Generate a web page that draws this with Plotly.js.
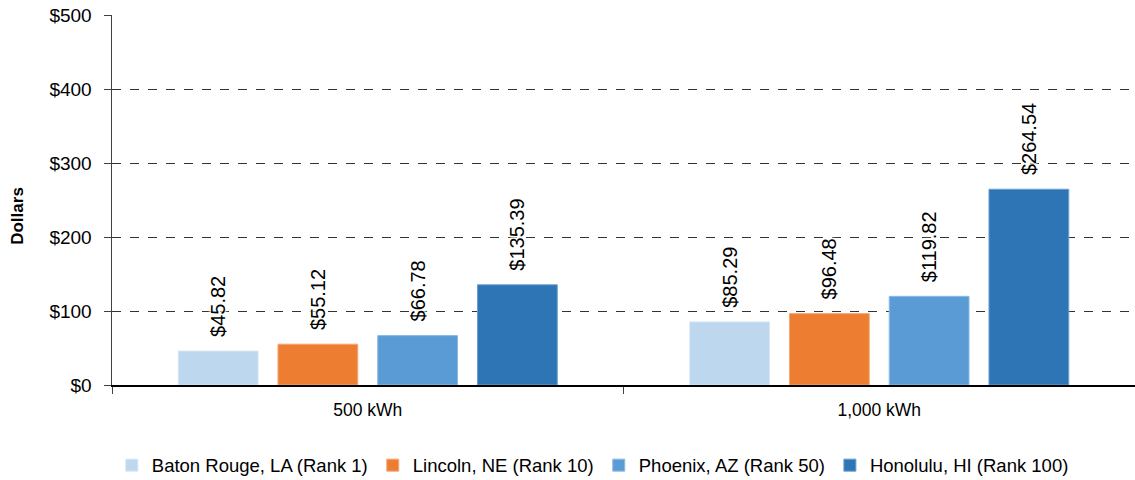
<!DOCTYPE html>
<html>
<head>
<meta charset="utf-8">
<script src="https://cdn.plot.ly/plotly-3.0.1.min.js"></script>
<style>html,body{margin:0;padding:0;background:#fff;}#chart{width:1135px;height:480px;}</style>
</head>
<body>
<div id="chart"></div>
<script>
const categories = ["500 kWh", "1,000 kWh"];
const seriesNames = ["Baton Rouge, LA (Rank 1)", "Lincoln, NE (Rank 10)", "Phoenix, AZ (Rank 50)", "Honolulu, HI (Rank 100)"];
const batonRouge = [45.82, 85.29];
const lincoln = [55.12, 96.48];
const phoenix = [66.78, 119.82];
const honolulu = [135.39, 264.54];
const colors = ["#BDD7EE", "#ED7D31", "#5B9BD5", "#2E75B6"];
const borderColors = ["#D6E6F5", "#F4A775", "#8DBBE6", "#6A9ED0"];
const seriesValues = [batonRouge, lincoln, phoenix, honolulu];

const traces = seriesValues.map((vals, i) => ({
  type: "bar",
  name: seriesNames[i],
  x: categories,
  y: vals,
  text: vals.map(v => "&nbsp;&nbsp;$" + v.toFixed(2)),
  textposition: "outside",
  textangle: -90,
  constraintext: "none",
  cliponaxis: false,
  textfont: {family: "Liberation Sans, Arial, sans-serif", size: 20, color: "#000",
    shadow: "0 0 3px #fff, 0 0 3px #fff, 0 0 3px #fff, 0 0 3px #fff"},
  marker: {color: colors[i], line: {color: borderColors[i], width: 1}},
  hoverinfo: "none"
}));

const layout = {
  width: 1135, height: 480,
  margin: {l: 112, r: 0, t: 15, b: 95, autoexpand: false},
  paper_bgcolor: "#fff", plot_bgcolor: "#fff",
  font: {family: "Liberation Sans, Arial, sans-serif", color: "#000"},
  barmode: "group",
  bargap: 0.22,
  bargroupgap: 0.2,
  showlegend: true,
  legend: {orientation: "h", x: 0.47, xanchor: "center", yref: "container", y: 0.03, yanchor: "middle", font: {size: 18.5}, itemwidth: 30, traceorder: "normal"},
  xaxis: {
    tickfont: {size: 17.5},
    showline: true, linecolor: "#000", linewidth: 1.5,
    ticks: "outside", tickson: "boundaries", ticklen: 7, tickcolor: "#404040",
    ticklabelstandoff: 8,
    showgrid: false, fixedrange: true
  },
  yaxis: {
    range: [0, 500], dtick: 100, tickprefix: "$",
    tickfont: {size: 19},
    showline: true, linecolor: "#404040", linewidth: 1.5,
    ticks: "outside", ticklen: 7, tickcolor: "#404040",
    ticklabelstandoff: 8,
    showgrid: true, gridcolor: "#333", griddash: "dash", gridwidth: 1,
    zeroline: false,
    fixedrange: true
  },
  annotations: [{
    text: "<b>Dollars</b>", textangle: -90, showarrow: false,
    xref: "paper", yref: "paper", x: -0.092, y: 0.457,
    xanchor: "center", yanchor: "middle",
    font: {size: 17, color: "#000"}
  }]
};
Plotly.newPlot("chart", traces, layout, {displayModeBar: false, staticPlot: true});
</script>
</body>
</html>
